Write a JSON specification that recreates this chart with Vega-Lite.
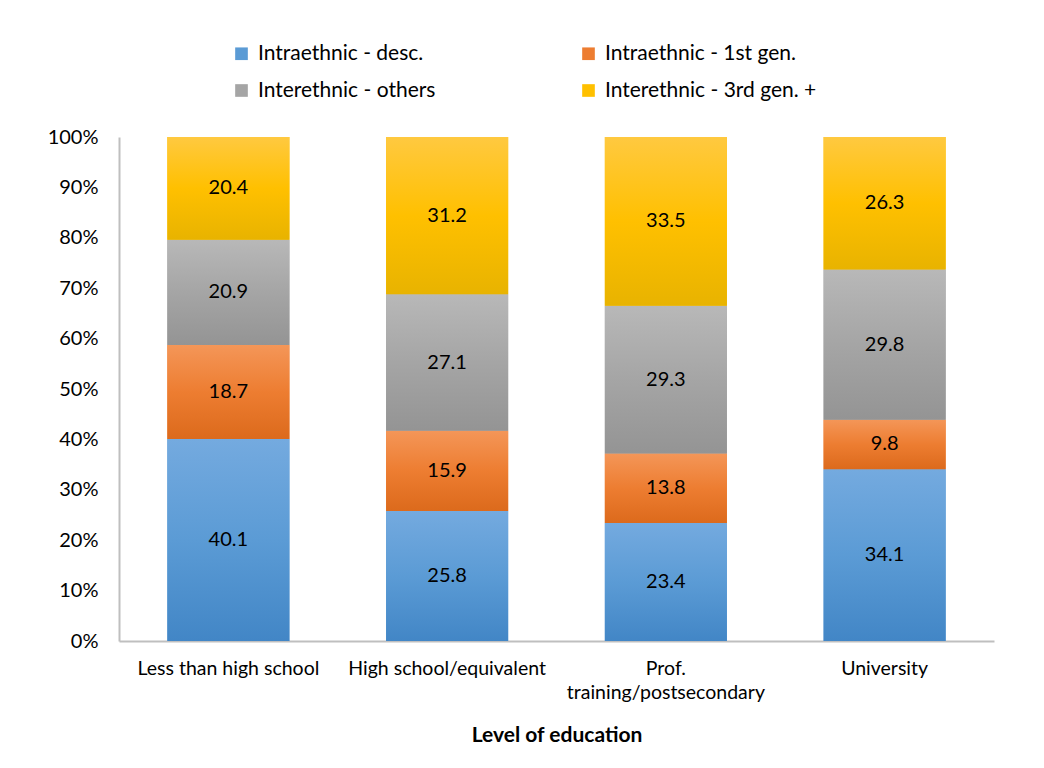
{
  "$schema": "https://vega.github.io/schema/vega-lite/v6.json",
  "autosize": "none",
  "width": 875,
  "height": 504,
  "padding": {"left": 119, "top": 137, "right": 50, "bottom": 127},
  "background": "white",
  "config": {
    "font": "Lato",
    "view": {"stroke": null}
  },
  "data": {
    "values": [
      {"level": "Less than high school", "group": "Intraethnic - desc.", "order": 1, "value": 40.1},
      {"level": "Less than high school", "group": "Intraethnic - 1st gen.", "order": 2, "value": 18.7},
      {"level": "Less than high school", "group": "Interethnic - others", "order": 3, "value": 20.9},
      {"level": "Less than high school", "group": "Interethnic - 3rd gen. +", "order": 4, "value": 20.4},
      {"level": "High school/equivalent", "group": "Intraethnic - desc.", "order": 1, "value": 25.8},
      {"level": "High school/equivalent", "group": "Intraethnic - 1st gen.", "order": 2, "value": 15.9},
      {"level": "High school/equivalent", "group": "Interethnic - others", "order": 3, "value": 27.1},
      {"level": "High school/equivalent", "group": "Interethnic - 3rd gen. +", "order": 4, "value": 31.2},
      {"level": "Prof. training/postsecondary", "group": "Intraethnic - desc.", "order": 1, "value": 23.4},
      {"level": "Prof. training/postsecondary", "group": "Intraethnic - 1st gen.", "order": 2, "value": 13.8},
      {"level": "Prof. training/postsecondary", "group": "Interethnic - others", "order": 3, "value": 29.3},
      {"level": "Prof. training/postsecondary", "group": "Interethnic - 3rd gen. +", "order": 4, "value": 33.5},
      {"level": "University", "group": "Intraethnic - desc.", "order": 1, "value": 34.1},
      {"level": "University", "group": "Intraethnic - 1st gen.", "order": 2, "value": 9.8},
      {"level": "University", "group": "Interethnic - others", "order": 3, "value": 29.8},
      {"level": "University", "group": "Interethnic - 3rd gen. +", "order": 4, "value": 26.3}
    ]
  },
  "transform": [
    {"stack": "value", "groupby": ["level"], "sort": [{"field": "order"}], "offset": "normalize", "as": ["y0", "y1"]},
    {"calculate": "(datum.y0 + datum.y1) / 2", "as": "ymid"}
  ],
  "encoding": {
    "x": {
      "field": "level",
      "type": "nominal",
      "sort": ["Less than high school", "High school/equivalent", "Prof. training/postsecondary", "University"],
      "scale": {"paddingInner": 0.442, "paddingOuter": 0.221},
      "axis": {
        "title": "Level of education",
        "titleFont": "Lato",
        "titleFontSize": 21,
        "titleFontWeight": "bold",
        "titleColor": "#000000",
        "titlePadding": 23,
        "labelAngle": 0,
        "labelFontSize": 19.5,
        "labelColor": "#000000",
        "labelPadding": 18,
        "labelLineHeight": 24,
        "labelLimit": 400,
        "labelExpr": "datum.value == 'Prof. training/postsecondary' ? ['Prof.', 'training/postsecondary'] : datum.label",
        "ticks": false,
        "domainColor": "#bfbfbf",
        "domainWidth": 2
      }
    },
    "y": {
      "field": "y0",
      "type": "quantitative",
      "scale": {"domain": [0, 1]},
      "axis": {
        "title": null,
        "format": ".0%",
        "values": [0, 0.1, 0.2, 0.3, 0.4, 0.5, 0.6, 0.7, 0.8, 0.9, 1],
        "labelFontSize": 20,
        "labelColor": "#000000",
        "labelPadding": 21,
        "ticks": false,
        "grid": false,
        "domainColor": "#bfbfbf",
        "domainWidth": 2
      }
    },
    "y2": {"field": "y1"}
  },
  "layer": [
    {
      "mark": {"type": "bar"},
      "encoding": {
        "color": {
          "field": "group",
          "type": "nominal",
          "scale": {
            "domain": ["Intraethnic - desc.", "Intraethnic - 1st gen.", "Interethnic - others", "Interethnic - 3rd gen. +"],
            "range": ["#5b9bd5", "#ed7d31", "#a5a5a5", "#ffc000"]
          },
          "legend": {
            "title": null,
            "orient": "none",
            "legendX": 112,
            "legendY": -94,
            "direction": "horizontal",
            "columns": 2,
            "symbolType": "square",
            "symbolSize": 160,
            "symbolStrokeWidth": 0,
            "labelFontSize": 21,
            "labelColor": "#000000",
            "labelOffset": 6,
            "labelLimit": 400,
            "columnPadding": 142,
            "rowPadding": 15
          }
        }
      }
    },
    {
      "mark": {"type": "bar"},
      "encoding": {
        "color": {
          "condition": [
            {"test": "datum.group == 'Intraethnic - desc.'", "value": {"gradient": "linear", "x1": 0, "y1": 0, "x2": 0, "y2": 1, "stops": [{"offset": 0, "color": "#74aadf"}, {"offset": 0.5, "color": "#5b9bd5"}, {"offset": 1, "color": "#4286c6"}]}},
            {"test": "datum.group == 'Intraethnic - 1st gen.'", "value": {"gradient": "linear", "x1": 0, "y1": 0, "x2": 0, "y2": 1, "stops": [{"offset": 0, "color": "#f49658"}, {"offset": 0.5, "color": "#ed7d31"}, {"offset": 1, "color": "#dc6a1c"}]}},
            {"test": "datum.group == 'Interethnic - others'", "value": {"gradient": "linear", "x1": 0, "y1": 0, "x2": 0, "y2": 1, "stops": [{"offset": 0, "color": "#b8b8b8"}, {"offset": 0.5, "color": "#a5a5a5"}, {"offset": 1, "color": "#949494"}]}}
          ],
          "value": {"gradient": "linear", "x1": 0, "y1": 0, "x2": 0, "y2": 1, "stops": [{"offset": 0, "color": "#ffc940"}, {"offset": 0.5, "color": "#ffc000"}, {"offset": 1, "color": "#e8b300"}]}
        }
      }
    },
    {
      "mark": {"type": "text", "fontSize": 20, "color": "#000000", "baseline": "middle"},
      "encoding": {
        "y": {"field": "ymid", "type": "quantitative"},
        "y2": null,
        "text": {"field": "value", "type": "quantitative", "format": ".1f"}
      }
    }
  ]
}
